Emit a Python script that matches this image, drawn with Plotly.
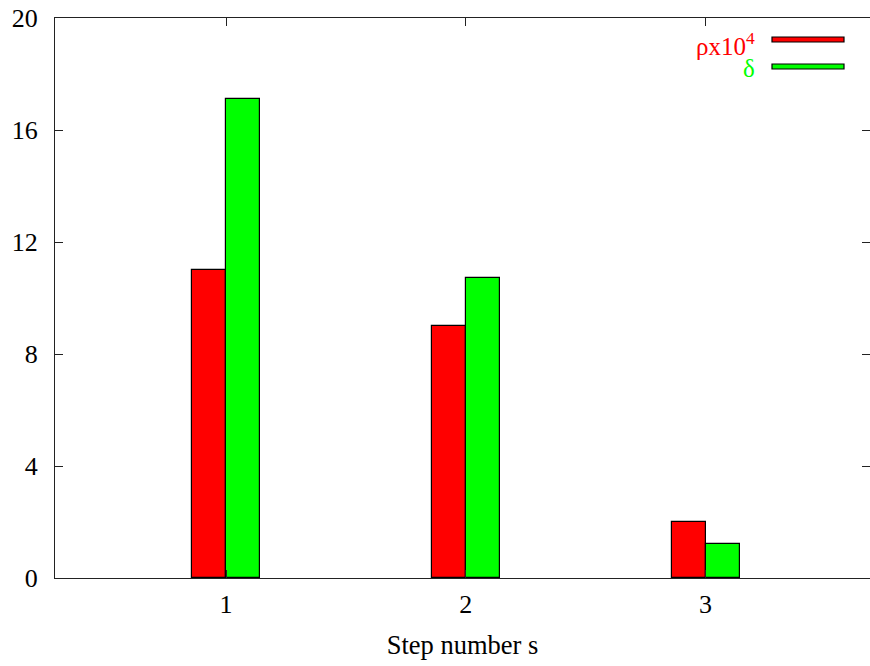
import plotly.graph_objects as go

steps = [1, 2, 3]
rho_x1e4 = [11.0, 9.0, 2.0]
delta = [17.1, 10.7, 1.2]
y_ticks = [0, 4, 8, 12, 16, 20]

RED = "#ff0000"
GREEN = "#00ff00"
FONT = "Liberation Serif"

W, H = 870, 666
L, R, T, B = 55, 0, 18, 88
pw, ph = W - L - R, H - T - B


def px(x):
    return (x - L) / pw


def py(y):
    return (H - B - y) / ph


bw = 0.1418
fig = go.Figure()
fig.add_trace(go.Bar(x=steps, y=rho_x1e4, width=bw, offset=-bw,
                     marker=dict(color=RED, line=dict(color="black", width=1.2)),
                     showlegend=False))
fig.add_trace(go.Bar(x=steps, y=delta, width=bw, offset=0,
                     marker=dict(color=GREEN, line=dict(color="black", width=1.2)),
                     showlegend=False))

axis_common = dict(showline=True, linecolor="#222", linewidth=1.2, mirror="ticks",
                   ticks="inside", ticklen=8, tickcolor="#222", tickwidth=1,
                   showgrid=False, zeroline=False,
                   tickfont=dict(family=FONT, size=26, color="black"))

fig.update_xaxes(range=[0.2868, 3.686], tickmode="array", tickvals=steps,
                 ticktext=[str(s) for s in steps], ticklabelstandoff=3,
                 title=dict(text="Step number s", font=dict(family=FONT, size=26.5, color="black"),
                            standoff=17),
                 **axis_common)
fig.update_yaxes(range=[0, 20], tickmode="array", tickvals=y_ticks,
                 ticktext=[str(v) for v in y_ticks], ticklabelstandoff=11,
                 **axis_common)

# manual legend (text on the left, sample on the right, gnuplot style)
legend_items = [("ρx10<sup>4</sup>", RED, 44, 39.5), ("δ", GREEN, 68, 66.5)]
for text, col, ty, sy in legend_items:
    fig.add_annotation(xref="paper", yref="paper", x=px(757), y=py(ty),
                       xanchor="right", yanchor="middle", showarrow=False,
                       text=text, font=dict(family=FONT, size=25, color=col))
    fig.add_shape(type="rect", xref="paper", yref="paper",
                  x0=px(772), x1=px(844), y0=py(sy + 2.5), y1=py(sy - 2.5),
                  fillcolor=col, line=dict(color="black", width=1.2))

fig.update_layout(width=W, height=H, margin=dict(l=L, r=R, t=T, b=B),
                  plot_bgcolor="white", paper_bgcolor="white",
                  barmode="overlay", bargap=0)

fig.write_html("out.html")
